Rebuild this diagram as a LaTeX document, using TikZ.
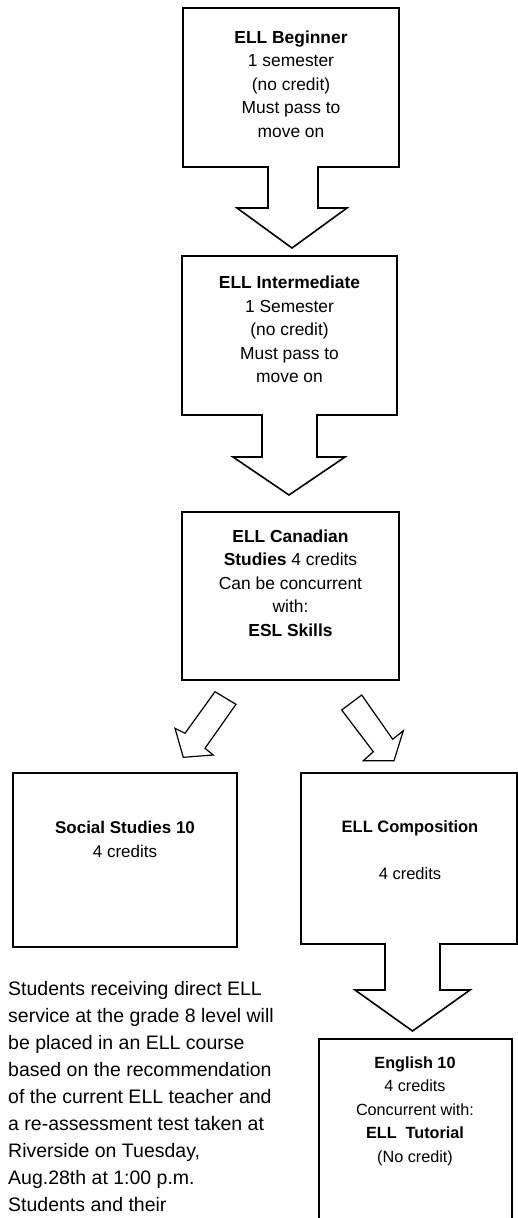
\documentclass[tikz,border=0pt]{standalone}
\usepackage{fontspec}
\setmainfont{Liberation Sans}
\begin{document}
\begin{tikzpicture}[x=1pt,y=-1pt,
  outline/.style={draw=black,line width=1.6pt,line join=miter,fill=white},
  thinarrow/.style={draw=black,line width=1.2pt,line join=miter,fill=white},
  boxtext/.style={anchor=north,inner sep=0pt,align=center,font=\fontsize{17.4}{23.5}\selectfont},
  smalltext/.style={anchor=north,inner sep=0pt,align=center,font=\fontsize{16.2}{23.5}\selectfont},
  paratext/.style={anchor=north west,inner sep=0pt,align=left,font=\fontsize{19.5}{27}\selectfont}]
\useasboundingbox (0,0) rectangle (518,1218);
\clip (0,0) rectangle (518,1218);
% Box 1 with down arrow
\draw[outline] (183,8) -- (399,8) -- (399,167) -- (318,167) -- (318,208) -- (347,208)
  -- (292,248) -- (237,208) -- (268,208) -- (268,167) -- (183,167) -- cycle;
\node[boxtext] (beg) at (291,30.2) {\textbf{ELL Beginner}\\1 semester\\(no credit)\\Must pass to\\move on};
% Box 2 with down arrow
\draw[outline] (182,256) -- (397,256) -- (397,415) -- (317,415) -- (317,457) -- (345,457)
  -- (289,495) -- (233,457) -- (262,457) -- (262,415) -- (182,415) -- cycle;
\node[boxtext] (int) at (289.5,275.8) {\textbf{ELL Intermediate}\\1 Semester\\(no credit)\\Must pass to\\move on};
% Box 3
\draw[outline] (182,512) rectangle (399,680);
\node[boxtext] (can) at (290.5,529.2) {\textbf{ELL Canadian}\\\textbf{Studies} 4 credits\\Can be concurrent\\with:\\\textbf{ESL Skills}};
% Diagonal arrows
\draw[thinarrow] (215,691.7) -- (185,733.3) -- (175,728.3) -- (183.3,757.3) -- (213.3,755)
  -- (205,748.3) -- (236,704.3) -- cycle;
\draw[thinarrow] (361.7,695) -- (341.7,710) -- (373.3,751.7) -- (363.3,760.7) -- (394,760.7)
  -- (403.3,730.7) -- (392.7,739.3) -- cycle;
% Social Studies box
\draw[outline] (13,773) rectangle (237,947);
\node[boxtext,font=\fontsize{17}{24}\selectfont] (soc) at (125,820.8) {\textbf{Social Studies 10}\\4 credits};
% Composition box with down arrow
\draw[outline] (301,773) -- (517,773) -- (517,944) -- (440,944) -- (440,990) -- (470,990)
  -- (412.5,1031) -- (355,990) -- (385,990) -- (385,944) -- (301,944) -- cycle;
\node[boxtext,font=\fontsize{16.5}{23.5}\selectfont] (comp) at (410,820.8) {\textbf{ELL Composition}\\[23.5pt]4 credits};
% English 10 box
\draw[outline] (319,1039) rectangle (512,1250);
\node[smalltext] (eng) at (415,1056.4) {\textbf{English 10}\\4 credits\\Concurrent with:\\\textbf{ELL\ \ Tutorial}\\(No credit)};
% Paragraph
\node[paratext] (para) at (8,981) {Students receiving direct ELL\\service at the grade 8 level will\\be placed in an ELL course\\based on the recommendation\\of the current ELL teacher and\\a re-assessment test taken at\\Riverside on Tuesday,\\Aug.28th at 1:00 p.m.\\Students and their};
\end{tikzpicture}
\end{document}
